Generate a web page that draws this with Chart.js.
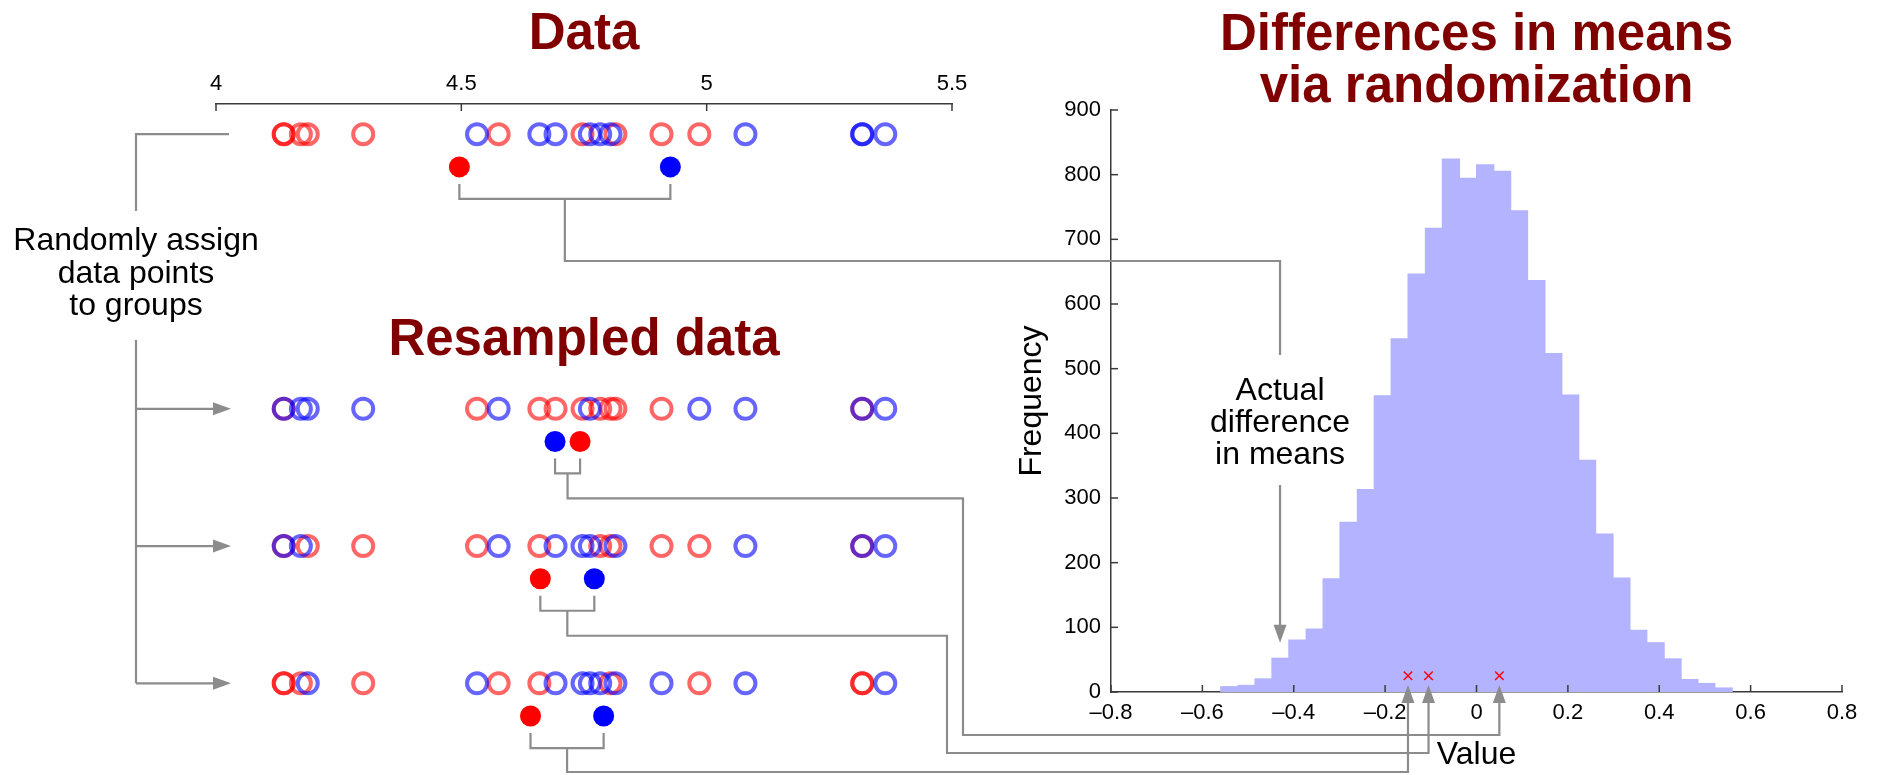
<!DOCTYPE html>
<html>
<head>
<meta charset="utf-8">
<script src="https://cdn.jsdelivr.net/npm/chart.js@4"></script>
<style>
  body { margin: 0; background: #fff; }
  #wrap { position: relative; width: 1887px; height: 775px; }
  #wrap canvas { position: absolute; left: 0; top: 0; }
</style>
</head>
<body>
<div id="wrap">
  <canvas id="dotChart" width="1887" height="775"></canvas>
  <canvas id="histChart" width="1887" height="775"></canvas>
</div>
<script>
// observed data, red group and blue group
const dataRed = [4.138, 4.138, 4.173, 4.187, 4.30, 4.576, 4.747, 4.814, 4.908, 4.985];
const dataBlue = [4.532, 4.659, 4.692, 4.762, 4.783, 4.804, 5.079, 5.317, 5.317, 5.364];

// three random re-assignments of the same 20 values
const resample1Red = [4.138, 4.532, 4.659, 4.692, 4.747, 4.783, 4.804, 4.814, 4.908, 5.317];
const resample1Blue = [4.138, 4.173, 4.187, 4.30, 4.576, 4.762, 4.985, 5.079, 5.317, 5.364];
const resample2Red = [4.138, 4.187, 4.30, 4.532, 4.659, 4.783, 4.804, 4.908, 4.985, 5.317];
const resample2Blue = [4.138, 4.173, 4.576, 4.692, 4.747, 4.762, 4.814, 5.079, 5.317, 5.364];
const resample3Red = [4.138, 4.138, 4.173, 4.30, 4.576, 4.659, 4.804, 4.985, 5.317, 5.317];
const resample3Blue = [4.187, 4.532, 4.692, 4.747, 4.762, 4.783, 4.814, 4.908, 5.079, 5.364];

// group means (filled dots): data, resample 1, 2, 3
const redMeans = [4.496, 4.742, 4.661, 4.641];
const blueMeans = [4.926, 4.691, 4.771, 4.790];

// red minus blue for the three resamples, and for the actual data
const resampleDiffs = [0.05, -0.105, -0.15];
const actualDiff = -0.43;

// histogram of differences via randomization
const binCenters = [-0.541, -0.503, -0.466, -0.429, -0.392, -0.354, -0.317, -0.280, -0.242, -0.205,
                    -0.168, -0.131, -0.093, -0.056, -0.019, 0.019, 0.056, 0.093, 0.131, 0.168,
                    0.205, 0.242, 0.280, 0.317, 0.354, 0.392, 0.429, 0.466, 0.503, 0.541];
const binCounts = [8, 10, 20, 52, 80, 97, 175, 262, 313, 458,
                   546, 646, 717, 824, 794, 815, 805, 744, 636, 523,
                   459, 358, 244, 176, 95, 76, 51, 19, 13, 6];

// layout
const rowLevels = [0, 2, 3, 4];
const meanOffset = 0.238;
const markLevel = 25;
const fontFamily = '"Liberation Sans", Arial, Helvetica, sans-serif';
const axisColor = '#3a3a3a';
const lineGray = '#8c8c8c';
const titleRed = '#800000';

Chart.defaults.font.family = fontFamily;
Chart.defaults.color = '#000';

// MATLAB style ticks that point into the plot
const inwardTicks = {
    id: 'inwardTicks',
    afterDraw(chart) {
        const ctx = chart.ctx;
        ctx.save();
        ctx.strokeStyle = axisColor;
        ctx.lineWidth = 1.5;
        Object.values(chart.scales).forEach(function(s) {
            if (s.options.display === false) return;
            s.ticks.forEach(function(t) {
                const p = s.getPixelForValue(t.value);
                ctx.beginPath();
                if (s.position === 'top') {
                    ctx.moveTo(p, s.bottom); ctx.lineTo(p, s.bottom + 7);
                } else if (s.position === 'bottom') {
                    ctx.moveTo(p, s.top); ctx.lineTo(p, s.top - 7);
                } else {
                    ctx.moveTo(s.right, p); ctx.lineTo(s.right + 7, p);
                }
                ctx.stroke();
            });
        });
        ctx.restore();
    }
};

function rowSet(values, level, color, order) {
    return {
        data: values.map(v => ({x: v, y: level})),
        pointRadius: 10,
        pointHoverRadius: 10,
        pointBorderWidth: 4,
        pointBorderColor: color,
        pointBackgroundColor: 'rgba(0,0,0,0)',
        order: order,
        clip: false
    };
}

const rows = [
    [dataRed, dataBlue],
    [resample1Red, resample1Blue],
    [resample2Red, resample2Blue],
    [resample3Red, resample3Blue]
];

const dotDatasets = [];
rows.forEach(function(pair, i) {
    dotDatasets.push(rowSet(pair[0], rowLevels[i], 'rgba(255,0,0,0.6)', 3));
    dotDatasets.push(rowSet(pair[1], rowLevels[i], 'rgba(0,0,255,0.6)', 2));
});
[[redMeans, '#ff0000'], [blueMeans, '#0000ff']].forEach(function(m) {
    dotDatasets.push({
        data: m[0].map((v, i) => ({x: v, y: rowLevels[i] + meanOffset})),
        pointRadius: 10.5,
        pointHoverRadius: 10.5,
        pointBorderWidth: 0,
        pointBackgroundColor: m[1],
        order: 1,
        clip: false
    });
});

const dotChart = new Chart(document.getElementById('dotChart'), {
    type: 'scatter',
    data: { datasets: dotDatasets },
    options: {
        responsive: false,
        animation: false,
        devicePixelRatio: 1,
        events: [],
        layout: { padding: { left: 216, right: 935, top: 64, bottom: 23 } },
        plugins: { legend: { display: false }, tooltip: { enabled: false } },
        scales: {
            x: {
                type: 'linear',
                position: 'top',
                min: 4,
                max: 5.5,
                ticks: { stepSize: 0.5, padding: 7, font: { size: 22 }, color: '#000',
                         callback: v => String(Math.round(v * 10) / 10) },
                grid: { display: false, drawTicks: false },
                border: { display: true, color: axisColor, width: 1.5 },
                afterFit: function(s) { s.height = 40; }
            },
            y: { type: 'linear', display: false, reverse: true, min: -0.22, max: 4.5 }
        }
    },
    plugins: [inwardTicks]
});

function arrowHead(ctx, x, y, dir) {
    const len = 18, half = 6.5;
    ctx.beginPath();
    ctx.moveTo(x, y);
    if (dir === 'up') { ctx.lineTo(x - half, y + len); ctx.lineTo(x + half, y + len); }
    else if (dir === 'down') { ctx.lineTo(x - half, y - len); ctx.lineTo(x + half, y - len); }
    else { ctx.lineTo(x - len, y - half); ctx.lineTo(x - len, y + half); }
    ctx.closePath();
    ctx.fill();
}

function polyline(ctx, pts) {
    ctx.beginPath();
    ctx.moveTo(pts[0][0], pts[0][1]);
    for (let k = 1; k < pts.length; k++) ctx.lineTo(pts[k][0], pts[k][1]);
    ctx.stroke();
}

// connectors and text over both charts
const overlay = {
    id: 'overlay',
    afterDraw(chart) {
        const ctx = chart.ctx;
        const xs = dotChart.scales.x, ys = dotChart.scales.y;
        const hx = chart.scales.x, hy = chart.scales.y;
        ctx.save();
        ctx.strokeStyle = lineGray;
        ctx.fillStyle = lineGray;
        ctx.lineWidth = 2.2;

        // "randomly assign" tree on the left
        const trunkX = 136;
        const tipX = xs.left + 15;
        const firstRowY = ys.getPixelForValue(rowLevels[0]);
        polyline(ctx, [[xs.left + 13, firstRowY], [trunkX, firstRowY], [trunkX, 211]]);
        polyline(ctx, [[trunkX, 340], [trunkX, ys.getPixelForValue(rowLevels[3])]]);
        for (let i = 1; i < 4; i++) {
            const y = ys.getPixelForValue(rowLevels[i]);
            polyline(ctx, [[trunkX, y], [tipX - 14, y]]);
            arrowHead(ctx, tipX, y, 'right');
        }

        // brackets under each pair of means and their routes to the histogram
        const ax = hx.getPixelForValue(actualDiff);
        const routes = [
            null,
            { drop: 963, level: 735 },
            { drop: 947, level: 753 },
            { drop: null, level: 772 }
        ];
        for (let i = 0; i < 4; i++) {
            const xr = xs.getPixelForValue(redMeans[i]);
            const xb = xs.getPixelForValue(blueMeans[i]);
            const yd = ys.getPixelForValue(rowLevels[i] + meanOffset);
            const top = yd + 17, bot = yd + 32, mid = (xr + xb) / 2;
            polyline(ctx, [[xr, top], [xr, bot], [xb, bot], [xb, top]]);
            if (i === 0) {
                polyline(ctx, [[mid, bot], [mid, 261], [ax, 261], [ax, 355]]);
            } else {
                const r = routes[i];
                const tx = hx.getPixelForValue(resampleDiffs[i - 1]);
                const stemY = yd + 57;
                const pts = [[mid, bot], [mid, stemY]];
                if (r.drop) {
                    pts.push([r.drop, stemY], [r.drop, r.level]);
                } else {
                    pts.push([mid, r.level]);
                }
                pts.push([tx, r.level], [tx, hy.bottom + 9]);
                polyline(ctx, pts);
                arrowHead(ctx, tx, hy.bottom - 7, 'up');
            }
        }

        // arrow to the actual difference
        const arrowTip = hy.getPixelForValue(76);
        polyline(ctx, [[ax, 485], [ax, arrowTip - 14]]);
        arrowHead(ctx, ax, arrowTip, 'down');

        // titles
        ctx.textAlign = 'center';
        ctx.textBaseline = 'alphabetic';
        ctx.fillStyle = titleRed;
        ctx.font = 'bold 51px ' + fontFamily;
        const dotMid = (xs.left + xs.right) / 2;
        const histMid = (hx.left + hx.right) / 2;
        ctx.fillText('Data', dotMid, 49);
        ctx.fillText('Resampled data', dotMid, 355);
        ctx.fillText('Differences in means', histMid, 50);
        ctx.fillText('via randomization', histMid, 102);

        // annotations
        ctx.fillStyle = '#000';
        ctx.font = '32px ' + fontFamily;
        ['Randomly assign', 'data points', 'to groups'].forEach(function(t, k) {
            ctx.fillText(t, trunkX, 250 + 32.5 * k);
        });
        ['Actual', 'difference', 'in means'].forEach(function(t, k) {
            ctx.fillText(t, ax, 400 + 32 * k);
        });
        ctx.restore();
    }
};

function valueLabel(v) {
    if (Math.abs(v) < 1e-9) return '0';
    return (v < 0 ? '\u2013' : '') + Math.abs(v).toFixed(1);
}

new Chart(document.getElementById('histChart'), {
    type: 'bar',
    data: {
        datasets: [
            {
                type: 'bar',
                data: binCenters.map((c, i) => ({x: c, y: binCounts[i]})),
                backgroundColor: '#b3b3ff',
                borderWidth: 0,
                inflateAmount: 0.7,
                barPercentage: 1,
                categoryPercentage: 1,
                order: 2
            },
            {
                type: 'scatter',
                data: resampleDiffs.map(d => ({x: d, y: markLevel})),
                pointStyle: 'crossRot',
                pointRadius: 6,
                pointHoverRadius: 6,
                pointBorderColor: '#ff0000',
                pointBorderWidth: 1.5,
                order: 1
            }
        ]
    },
    options: {
        responsive: false,
        animation: false,
        devicePixelRatio: 1,
        events: [],
        layout: { padding: { left: 1013, right: 45, top: 110, bottom: 0 } },
        plugins: { legend: { display: false }, tooltip: { enabled: false } },
        scales: {
            x: {
                type: 'linear',
                min: -0.8,
                max: 0.8,
                offset: false,
                z: 1,
                ticks: { stepSize: 0.2, padding: 8, font: { size: 22 }, color: '#000', callback: valueLabel },
                grid: { display: false, drawTicks: false, offset: false },
                border: { display: true, color: axisColor, width: 1.5 },
                title: { display: true, text: 'Value', font: { size: 32 }, color: '#000', padding: { top: 0, bottom: 1 } },
                afterFit: function(s) { s.height = 83; }
            },
            y: {
                type: 'linear',
                min: 0,
                max: 900,
                z: 1,
                ticks: { stepSize: 100, padding: 10, font: { size: 22 }, color: '#000' },
                grid: { display: false, drawTicks: false },
                border: { display: true, color: axisColor, width: 1.5 },
                title: { display: true, text: 'Frequency', font: { size: 32 }, color: '#000', padding: { top: 0, bottom: 0 } },
                afterFit: function(s) { s.width = 98; }
            }
        }
    },
    plugins: [inwardTicks, overlay]
});
</script>
</body>
</html>
